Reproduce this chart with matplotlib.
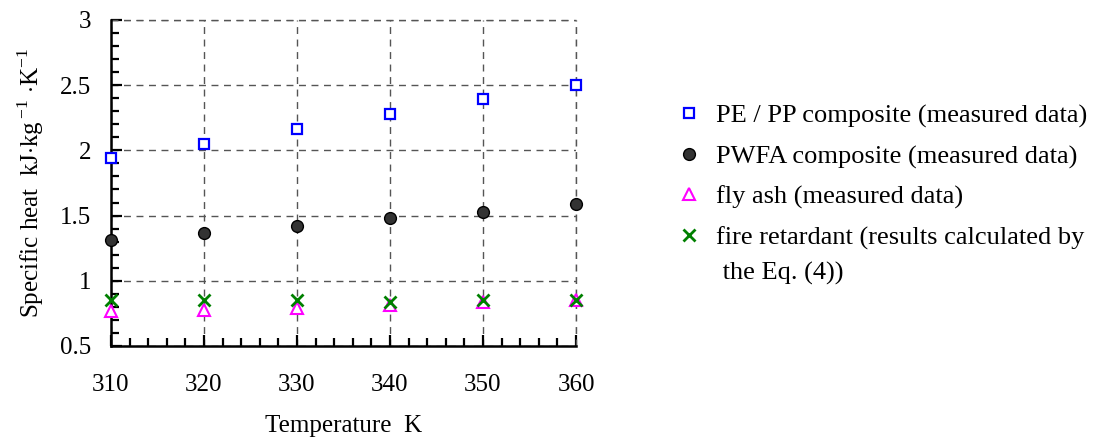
import matplotlib
matplotlib.use('Agg')
import matplotlib.pyplot as plt
from matplotlib.ticker import MultipleLocator
from matplotlib.transforms import IdentityTransform

plt.rcParams['font.family'] = ['Liberation Serif', 'DejaVu Serif']
plt.rcParams['mathtext.fontset'] = 'custom'
plt.rcParams['mathtext.rm'] = 'Liberation Serif'

# Temperature points (K)
temperature = [310, 320, 330, 340, 350, 360]

# Specific heat values, kJ/(kg K)
pe_pp = [1.94, 2.05, 2.16, 2.28, 2.39, 2.50]
pwfa = [1.31, 1.37, 1.42, 1.48, 1.525, 1.585]
fly_ash = [0.765, 0.778, 0.79, 0.815, 0.835, 0.853]
fire_retardant = [0.855, 0.85, 0.85, 0.837, 0.85, 0.855]

labels = ['PE / PP composite (measured data)',
          'PWFA composite (measured data)',
          'fly ash (measured data)',
          'fire retardant (results calculated by']
label_tail = ' the Eq. (4))'

fig = plt.figure(figsize=(10.98, 4.43), dpi=100)
ax = fig.add_axes([0.101, 0.219, 0.4236, 0.736])

ax.plot(temperature, pe_pp, ls='none', marker='s', ms=7.5, mfc='white',
        mec='#0000ff', mew=1.6, label=labels[0], clip_on=False, zorder=4)
ax.plot(temperature, pwfa, ls='none', marker='o', ms=8.5, mfc='#333333',
        mec='black', mew=1.0, label=labels[1], clip_on=False, zorder=4)
ax.plot(temperature, fly_ash, ls='none', marker='^', ms=9, mfc='white',
        mec='#ff00ff', mew=1.5, label=labels[2], clip_on=False, zorder=4)
ax.plot(temperature, fire_retardant, ls='none', marker='x', ms=9,
        mec='#008000', mew=2.0, label=labels[3], clip_on=False, zorder=5)

ax.set_xlim(310, 360)
ax.set_ylim(0.5, 3)
ax.xaxis.set_major_locator(MultipleLocator(10))
ax.xaxis.set_minor_locator(MultipleLocator(2))
ax.yaxis.set_minor_locator(MultipleLocator(0.1))
ax.set_yticks([0.5, 1, 1.5, 2, 2.5, 3])
ax.set_yticklabels(['0.5', '1', '1.5', '2', '2.5', '3'])

for side in ('top', 'right'):
    ax.spines[side].set_visible(False)
for side in ('left', 'bottom'):
    ax.spines[side].set_linewidth(1.8)

ax.tick_params(which='both', direction='in', width=1.6, labelsize=18)
ax.tick_params(which='major', length=8)
ax.tick_params(which='minor', length=6)
ax.tick_params(axis='x', which='major', pad=20)
ax.tick_params(axis='y', which='major', pad=14)

# dashed grid, including the upper and right edges of the plot box
ax.grid(True, which='major', ls=(0, (5, 4)), color='#555555', lw=1.0)
ax.axhline(3, ls=(0, (5, 4)), color='#555555', lw=1.0, clip_on=False)
ax.axvline(360, ls=(0, (5, 4)), color='#555555', lw=1.0, clip_on=False)
ax.set_axisbelow(True)

ax.set_xlabel('Temperature  K', fontsize=18, labelpad=14)
ax.set_ylabel(r'Specific heat  kJ$\cdot$kg$^{\,\mathregular{-1}}$ $\cdot$K$^{\mathregular{-1}}$',
              fontsize=18, labelpad=10)

leg = fig.legend(loc='upper left', bbox_to_anchor=(0.6157, 0.765), frameon=False,
                 fontsize=19, handlelength=1.0, handletextpad=0.5,
                 labelspacing=0.63, borderaxespad=0, borderpad=0)

# wrapped continuation of the last legend entry, placed under its first line
fig.canvas.draw()
bb = leg.get_texts()[3].get_window_extent()
fig.text(bb.x0, bb.y0 - 35, label_tail, transform=IdentityTransform(),
         ha='left', va='bottom', fontsize=19)

fig.savefig('out.png', dpi=100)
